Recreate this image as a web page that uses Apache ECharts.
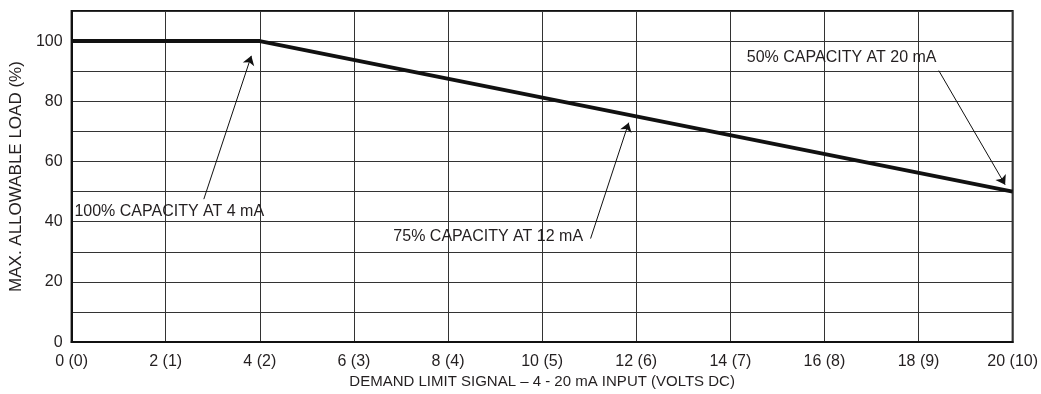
<!DOCTYPE html>
<html>
<head>
<meta charset="utf-8">
<script src="https://cdn.jsdelivr.net/npm/echarts@6/dist/echarts.min.js"></script>
<style>
html,body{margin:0;padding:0;background:#fff;}
#chart{width:1041px;height:394px;}
</style>
</head>
<body>
<div id="chart"></div>
<script>
// ---- data ----
const signalMA = [0, 4, 20];          // x values (mA scale 0-20)
const loadPct = [100, 100, 50];        // max allowable load %
const xTickLabels = ['0 (0)', '2 (1)', '4 (2)', '6 (3)', '8 (4)', '10 (5)', '12 (6)', '14 (7)', '16 (8)', '18 (9)', '20 (10)'];
const yTickLabels = ['0', '20', '40', '60', '80', '100'];
const annotationTexts = ['100% CAPACITY AT 4 mA', '75% CAPACITY AT 12 mA', '50% CAPACITY AT 20 mA'];
const annotationTextAt = [[0.06, 43.2], [10.87, 35.1], [14.35, 94.6]];
const arrowFrom = [[2.81, 47.5], [11.03, 34.4], [18.43, 90.2]];
const arrowTo = [[3.82, 95.1], [11.84, 72.9], [19.84, 52.3]];

const FONT = 'Liberation Sans, Arial, sans-serif';
const TXT = '#231f20';

const chart = echarts.init(document.getElementById('chart'));
const textPos = ['right', 'left', 'right'];

chart.setOption({
  animation: false,
  backgroundColor: '#fff',
  grid: {left: 70, right: 25, top: 11, bottom: 45, show: true, borderColor: '#111', borderWidth: 2, containLabel: false},
  xAxis: {
    type: 'value', min: 0, max: 20, interval: 2,
    name: 'DEMAND LIMIT SIGNAL – 4 - 20 mA INPUT (VOLTS DC)',
    nameLocation: 'middle', nameGap: 31,
    nameTextStyle: {color: TXT, fontFamily: FONT, fontSize: 15},
    axisLine: {show: true, lineStyle: {color: '#111', width: 2}},
    axisTick: {show: false},
    axisLabel: {color: TXT, fontFamily: FONT, fontSize: 16, margin: 11,
      formatter: v => xTickLabels[Math.round(v / 2)]},
    splitLine: {show: true, lineStyle: {color: '#333', width: 1}}
  },
  yAxis: {
    type: 'value', min: 0, max: 110, interval: 10,
    name: 'MAX. ALLOWABLE LOAD (%)',
    nameLocation: 'middle', nameGap: 44,
    nameTextStyle: {color: TXT, fontFamily: FONT, fontSize: 17},
    axisLine: {show: true, lineStyle: {color: '#111', width: 2}},
    axisTick: {show: false},
    axisLabel: {color: TXT, fontFamily: FONT, fontSize: 16, margin: 9,
      formatter: v => (v % 20 === 0 && v / 20 < yTickLabels.length) ? yTickLabels[v / 20] : ''},
    splitLine: {show: true, lineStyle: {color: '#333', width: 1}}
  },
  series: [
    {
      type: 'line',
      data: signalMA.map((x, i) => [x, loadPct[i]]),
      symbol: 'none',
      lineStyle: {color: '#111', width: 4},
      z: 5,
      markLine: {
        silent: true,
        symbol: ['none', 'arrow'],
        symbolSize: 9,
        label: {show: false},
        lineStyle: {color: '#111', width: 1, type: 'solid', opacity: 1},
        data: arrowFrom.map((f, i) => [{coord: f}, {coord: arrowTo[i]}])
      }
    },
    {
      type: 'scatter',
      symbolSize: 0,
      silent: true,
      z: 6,
      itemStyle: {opacity: 1},
      data: annotationTexts.map((t, i) => ({
        name: t,
        value: annotationTextAt[i],
        label: {show: true, position: textPos[i], distance: 0, formatter: '{b}', opacity: 1,
          color: TXT, fontFamily: FONT, fontSize: 16}
      }))
    }
  ]
});
</script>
</body>
</html>
